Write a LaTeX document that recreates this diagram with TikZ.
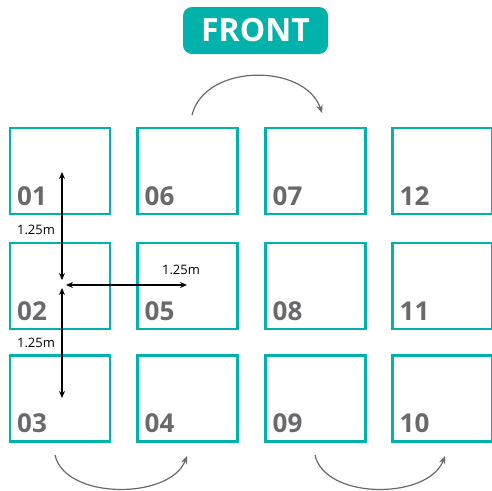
\documentclass[tikz,border=0pt]{standalone}
\usepackage{fontspec}
\setmainfont{Open Sans}
\usetikzlibrary{arrows.meta}
\definecolor{plotteal}{RGB}{0,178,169}
\definecolor{numgray}{RGB}{105,105,108}
\definecolor{turngray}{RGB}{105,105,105}

\tikzset{
    plotbox/.style={draw=plotteal, line width=2.8pt, minimum width=100pt, minimum height=86pt, inner sep=0pt},
    plotnum/.style={anchor=base west, text=numgray, font=\fontsize{26}{28}\selectfont\bfseries, inner sep=0pt},
    dimline/.style={{Stealth[length=7pt,width=6pt]}-{Stealth[length=7pt,width=6pt]}, line width=1.3pt},
    dimtext/.style={font=\fontsize{13}{15}\selectfont, inner sep=0pt},
    turn/.style={-{Stealth[length=8pt,width=6.5pt]}, draw=turngray, line width=1.2pt},
    banner/.style={fill=plotteal, rounded corners=9pt, minimum width=145pt, minimum height=47pt, text=white, font=\fontsize{32}{34}\selectfont\bfseries}
}

\begin{document}
\begin{tikzpicture}[x=1pt,y=-1pt]
    \useasboundingbox (0,0) rectangle (492,490);
    % banner
    \node[banner] (front) at (255.5,30.5) {FRONT};
    % plots
    \foreach \n/\x/\y in {01/60/171, 02/60/286, 03/60/398.5,
                          06/187.5/171, 05/187.5/286, 04/187.5/398.5,
                          07/315.5/171, 08/315.5/286, 09/315.5/398.5,
                          12/442.5/171, 11/442.5/286, 10/442.5/398.5}
    {
        \node[plotbox] (p\n) at (\x,\y) {};
        \node[plotnum] (n\n) at (\x-43,\y+34) {\n};
    }
    % spacing
    \coordinate (d1) at (62,172);
    \coordinate (d2) at (62,280);
    \coordinate (d3) at (62,288);
    \coordinate (d4) at (62,398);
    \coordinate (d5) at (66,285);
    \coordinate (d6) at (187,285);
    \draw[dimline] (d1) -- (d2);
    \draw[dimline] (d3) -- (d4);
    \draw[dimline] (d5) -- (d6);
    \node[dimtext] (w1) at (36,230) {1.25m};
    \node[dimtext] (w2) at (181,270) {1.25m};
    \node[dimtext] (w3) at (36,343) {1.25m};
    % walking order
    \coordinate (t1) at (192,115);
    \coordinate (t2) at (322,113);
    \coordinate (t3) at (55,455);
    \coordinate (t4) at (187,456);
    \coordinate (t5) at (315,455);
    \coordinate (t6) at (445,456);
    \draw[turn] (t1) .. controls (205,63) and (305,63) .. (t2);
    \draw[turn] (t3) .. controls (65,500) and (170,500) .. (t4);
    \draw[turn] (t5) .. controls (325,500) and (428,500) .. (t6);
\end{tikzpicture}
\end{document}
